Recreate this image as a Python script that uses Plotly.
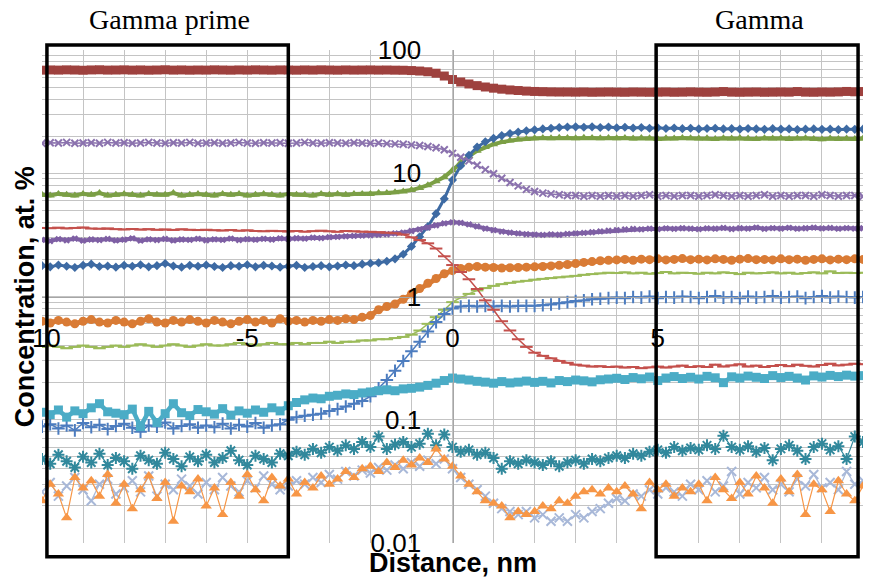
import plotly.graph_objects as go

# Sampling positions along the reconstruction (nm), 0.2 nm step
distance = [round(-10 + 0.2 * i, 1) for i in range(101)]

# Concentration profiles (at.%) across the gamma' / gamma interface
s1 = [68.6, 68.9, 68.7, 69.0, 68.8, 68.5, 68.9, 69.1, 68.7, 68.8,
      69.0, 68.7, 68.9, 68.6, 68.8, 69.1, 68.7, 68.9, 68.6, 68.8,
      68.7, 69.0, 68.8, 68.6, 68.9, 68.7, 69.0, 68.8, 68.6, 68.9,
      68.8, 68.6, 68.9, 68.7, 69.0, 68.8, 68.6, 68.9, 68.7, 68.8,
      68.9, 68.7, 68.8, 68.6, 68.5, 68.1, 67.5, 66.6, 64.8, 61.5,
      57.6, 55.0, 53.0, 51.4, 50.1, 49.0, 48.1, 47.4, 46.9, 46.4,
      46.1, 45.9, 45.7, 45.6, 45.6, 45.5, 45.6, 45.4, 45.5, 45.6,
      45.5, 45.4, 45.6, 45.5, 45.4, 45.5, 45.6, 45.4, 45.5, 45.7,
      45.5, 45.4, 45.6, 46.0, 45.5, 45.4, 45.5, 45.6, 45.4, 45.5,
      45.6, 45.5, 46.0, 45.5, 45.4, 45.6, 45.5, 45.7, 46.1, 45.8,
      46.0]

s2 = [17.5, 17.7, 17.6, 17.8, 17.5, 17.6, 17.7, 17.5, 17.8, 17.6,
      17.7, 17.5, 17.6, 17.8, 17.6, 17.5, 17.7, 17.6, 17.8, 17.5,
      17.6, 17.7, 17.5, 17.6, 17.8, 17.6, 17.5, 17.7, 17.6, 17.7,
      17.5, 17.6, 17.8, 17.6, 17.5, 17.7, 17.6, 17.5, 17.7, 17.6,
      17.5, 17.6, 17.4, 17.3, 17.2, 17.0, 16.8, 16.5, 16.1, 15.5,
      14.5, 13.5, 12.6, 11.6, 10.7, 9.9, 9.1, 8.4, 7.9, 7.4,
      7.1, 6.9, 6.8, 6.7, 6.6, 6.6, 6.5, 6.6, 6.5, 6.6,
      6.5, 6.6, 6.5, 6.6, 6.7, 6.5, 6.6, 6.5, 6.6, 6.6,
      6.5, 6.6, 6.7, 6.6, 6.5, 6.6, 6.5, 6.6, 6.7, 6.5,
      6.6, 6.5, 6.6, 6.6, 6.5, 6.7, 6.6, 6.5, 6.6, 6.6,
      6.5]

s3 = [6.7, 6.6, 6.8, 6.7, 6.6, 6.8, 6.7, 6.9, 6.6, 6.7,
      6.8, 6.7, 6.6, 6.8, 6.7, 6.7, 6.9, 6.6, 6.7, 6.8,
      6.7, 6.6, 6.8, 6.7, 6.8, 6.6, 6.7, 6.8, 6.7, 6.6,
      6.8, 6.7, 6.7, 6.6, 6.8, 6.7, 6.8, 6.7, 6.8, 6.8,
      6.8, 6.9, 6.9, 7.0, 7.1, 7.3, 7.6, 8.0, 8.6, 9.3,
      10.6, 12.2, 13.8, 15.2, 16.3, 17.2, 17.9, 18.4, 18.8, 19.0,
      19.2, 19.3, 19.2, 19.4, 19.3, 19.2, 19.4, 19.3, 19.2, 19.3,
      19.2, 19.3, 19.1, 19.3, 19.2, 19.0, 19.2, 19.1, 19.3, 19.2,
      19.1, 19.2, 19.0, 19.2, 19.1, 19.3, 19.1, 19.0, 19.2, 19.1,
      19.2, 19.0, 19.1, 19.2, 19.0, 18.9, 19.1, 19.0, 19.1, 19.0,
      19.1]

s4 = [1.78, 1.74, 1.80, 1.76, 1.72, 1.79, 1.83, 1.75, 1.77, 1.73,
      1.79, 1.76, 1.81, 1.74, 1.78, 1.85, 1.77, 1.73, 1.79, 1.76,
      1.80, 1.75, 1.72, 1.78, 1.76, 1.81, 1.74, 1.79, 1.77, 1.73,
      1.76, 1.79, 1.72, 1.75, 1.78, 1.74, 1.77, 1.80, 1.78, 1.83,
      1.86, 1.88, 1.93, 2.02, 2.20, 2.55, 3.05, 3.70, 4.70, 6.20,
      8.8, 11.5, 14.0, 16.3, 18.0, 19.2, 20.2, 21.0, 21.6, 22.1,
      22.5, 22.9, 23.2, 23.5, 23.7, 23.8, 23.6, 23.8, 23.5, 23.7,
      23.4, 23.6, 23.3, 23.5, 23.2, 23.4, 23.1, 23.3, 23.0, 23.2,
      22.9, 23.1, 23.2, 22.9, 23.0, 22.8, 23.1, 22.9, 22.7, 23.0,
      22.8, 22.9, 22.6, 22.8, 22.9, 22.7, 22.8, 22.6, 22.8, 22.7,
      22.8]

s5 = [3.60, 3.58, 3.62, 3.57, 3.60, 3.63, 3.56, 3.55, 3.57, 3.52,
      3.50, 3.53, 3.49, 3.52, 3.48, 3.50, 3.47, 3.51, 3.48, 3.46,
      3.48, 3.45, 3.43, 3.46, 3.42, 3.44, 3.40, 3.38, 3.41, 3.39,
      3.37, 3.40, 3.36, 3.39, 3.42, 3.38, 3.35, 3.40, 3.38, 3.36,
      3.35, 3.33, 3.30, 3.26, 3.18, 3.02, 2.87, 2.70, 2.45, 2.12,
      1.80, 1.58, 1.38, 1.15, 0.93, 0.78, 0.63, 0.53, 0.45, 0.39,
      0.35, 0.33, 0.315, 0.30, 0.29, 0.28, 0.275, 0.27, 0.272, 0.268,
      0.27, 0.265, 0.268, 0.262, 0.266, 0.27, 0.265, 0.27, 0.275, 0.268,
      0.272, 0.268, 0.28, 0.27, 0.276, 0.282, 0.27, 0.275, 0.268, 0.273,
      0.278, 0.272, 0.28, 0.274, 0.27, 0.278, 0.285, 0.276, 0.28, 0.285,
      0.282]

s6 = [2.88, 2.82, 2.92, 2.86, 2.95, 2.84, 2.90, 2.87, 2.93, 2.85,
      2.89, 2.96, 2.84, 2.91, 2.87, 2.93, 2.85, 2.90, 2.88, 2.94,
      2.86, 2.91, 2.88, 2.95, 2.87, 2.92, 2.89, 2.94, 2.90, 2.96,
      2.93, 2.97, 2.95, 3.00, 2.98, 3.03, 3.05, 3.08, 3.10, 3.12,
      3.14, 3.16, 3.20, 3.25, 3.30, 3.40, 3.50, 3.63, 3.78, 3.92,
      4.00, 3.96, 3.85, 3.70, 3.56, 3.45, 3.36, 3.30, 3.25, 3.20,
      3.18, 3.16, 3.19, 3.17, 3.22, 3.25, 3.28, 3.32, 3.37, 3.42,
      3.46, 3.50, 3.53, 3.51, 3.55, 3.52, 3.57, 3.54, 3.58, 3.55,
      3.52, 3.57, 3.55, 3.60, 3.53, 3.58, 3.56, 3.62, 3.54, 3.59,
      3.56, 3.61, 3.55, 3.58, 3.62, 3.57, 3.60, 3.55, 3.59, 3.56,
      3.58]

s7 = [0.63, 0.61, 0.64, 0.62, 0.60, 0.63, 0.65, 0.62, 0.61, 0.64,
      0.62, 0.60, 0.63, 0.66, 0.62, 0.61, 0.64, 0.62, 0.65, 0.63,
      0.61, 0.64, 0.62, 0.60, 0.63, 0.65, 0.62, 0.64, 0.61, 0.66,
      0.63, 0.64, 0.62, 0.64, 0.63, 0.65, 0.64, 0.66, 0.65, 0.68,
      0.70, 0.78, 0.83, 0.87, 0.95, 1.05, 1.16, 1.28, 1.40, 1.53,
      1.62, 1.69, 1.73, 1.75, 1.73, 1.72, 1.70, 1.71, 1.72, 1.73,
      1.74, 1.75, 1.77, 1.79, 1.82, 1.85, 1.89, 1.92, 1.95, 1.97,
      1.98, 2.00, 1.97, 2.01, 1.99, 2.02, 1.98, 2.00, 2.03, 1.99,
      2.01, 1.98, 2.02, 2.00, 1.97, 2.01, 2.03, 1.99, 2.00, 1.98,
      2.02, 1.99, 2.01, 1.97, 2.00, 2.02, 1.98, 2.01, 1.99, 2.02,
      2.00]

s8 = [0.39, 0.40, 0.39, 0.38, 0.39, 0.40, 0.39, 0.38, 0.39, 0.40,
      0.39, 0.40, 0.41, 0.40, 0.39, 0.40, 0.41, 0.40, 0.39, 0.40,
      0.41, 0.40, 0.40, 0.41, 0.42, 0.41, 0.40, 0.41, 0.42, 0.41,
      0.41, 0.42, 0.41, 0.42, 0.42, 0.43, 0.42, 0.43, 0.43, 0.44,
      0.44, 0.45, 0.45, 0.46, 0.47, 0.49, 0.53, 0.60, 0.68, 0.78,
      0.90, 0.98, 1.05, 1.12, 1.17, 1.22, 1.26, 1.29, 1.32, 1.34,
      1.37, 1.39, 1.41, 1.43, 1.45, 1.47, 1.50, 1.52, 1.54, 1.56,
      1.55, 1.57, 1.54, 1.56, 1.53, 1.55, 1.58, 1.54, 1.56, 1.55,
      1.53, 1.56, 1.54, 1.57, 1.55, 1.52, 1.56, 1.54, 1.55, 1.57,
      1.54, 1.56, 1.53, 1.55, 1.57, 1.54, 1.60, 1.55, 1.56, 1.55,
      1.56]

s9 = [0.088, 0.092, 0.085, 0.090, 0.082, 0.094, 0.087, 0.091, 0.084, 0.089,
      0.093, 0.086, 0.080, 0.090, 0.088, 0.095, 0.085, 0.089, 0.092, 0.086,
      0.090, 0.087, 0.093, 0.085, 0.091, 0.088, 0.094, 0.086, 0.090, 0.092,
      0.100, 0.105, 0.108, 0.110, 0.112, 0.118, 0.122, 0.128, 0.135, 0.142,
      0.155, 0.18, 0.21, 0.25, 0.30, 0.36, 0.43, 0.52, 0.62, 0.72,
      0.80, 0.83, 0.84, 0.83, 0.84, 0.83, 0.84, 0.83, 0.84, 0.84,
      0.84, 0.85, 0.86, 0.88, 0.90, 0.92, 0.93, 0.95, 0.96, 0.97,
      0.98, 0.97, 0.99, 0.98, 1.00, 0.97, 0.99, 0.98, 1.00, 0.99,
      0.97, 0.99, 1.01, 0.98, 0.99, 0.97, 1.00, 0.98, 0.99, 1.01,
      0.98, 0.99, 1.00, 0.97, 0.99, 1.01, 0.98, 1.00, 0.99, 0.98,
      0.99]

s10 = [0.115, 0.110, 0.120, 0.105, 0.118, 0.112, 0.125, 0.135, 0.116, 0.113,
       0.110, 0.122, 0.088, 0.117, 0.095, 0.112, 0.135, 0.114, 0.108, 0.121,
       0.116, 0.111, 0.123, 0.109, 0.118, 0.113, 0.120, 0.115, 0.125, 0.118,
       0.130, 0.138, 0.145, 0.150, 0.148, 0.155, 0.158, 0.162, 0.160, 0.165,
       0.168, 0.172, 0.175, 0.172, 0.178, 0.180, 0.184, 0.190, 0.198, 0.208,
       0.218, 0.214, 0.210, 0.205, 0.202, 0.198, 0.204, 0.199, 0.202, 0.206,
       0.201, 0.205, 0.199, 0.208, 0.204, 0.210, 0.207, 0.203, 0.211, 0.214,
       0.217, 0.212, 0.220, 0.215, 0.222, 0.208, 0.218, 0.224, 0.216, 0.221,
       0.214, 0.225, 0.219, 0.200, 0.223, 0.218, 0.226, 0.221, 0.216, 0.228,
       0.220, 0.225, 0.218, 0.210, 0.227, 0.222, 0.229, 0.224, 0.230, 0.226,
       0.228]

s11 = [0.048, 0.044, 0.052, 0.046, 0.041, 0.050, 0.045, 0.053, 0.043, 0.049,
       0.046, 0.040, 0.051, 0.047, 0.044, 0.054, 0.048, 0.042, 0.050, 0.046,
       0.052, 0.045, 0.049, 0.056, 0.047, 0.043, 0.051, 0.048, 0.045, 0.053,
       0.051, 0.055, 0.052, 0.058, 0.054, 0.060, 0.056, 0.062, 0.058, 0.066,
       0.060, 0.073, 0.058, 0.063, 0.066, 0.060, 0.064, 0.077, 0.062, 0.076,
       0.060, 0.055, 0.057, 0.052, 0.054, 0.049, 0.040, 0.046, 0.044, 0.047,
       0.045, 0.043, 0.046, 0.042, 0.045, 0.047, 0.044, 0.048, 0.046, 0.049,
       0.051, 0.049, 0.053, 0.051, 0.055, 0.057, 0.054, 0.060, 0.056, 0.059,
       0.057, 0.062, 0.058, 0.074, 0.060, 0.057, 0.061, 0.055, 0.059, 0.047,
       0.058, 0.062, 0.056, 0.048, 0.060, 0.064, 0.057, 0.061, 0.048, 0.073,
       0.066]

s12 = [0.026, 0.031, 0.024, 0.029, 0.034, 0.027, 0.022, 0.030, 0.033, 0.025,
       0.028, 0.032, 0.026, 0.035, 0.024, 0.030, 0.027, 0.033, 0.029, 0.025,
       0.031, 0.027, 0.034, 0.029, 0.026, 0.032, 0.028, 0.035, 0.030, 0.027,
       0.029, 0.032, 0.030, 0.034, 0.031, 0.036, 0.033, 0.038, 0.035, 0.039,
       0.037, 0.041, 0.039, 0.043, 0.040, 0.045, 0.042, 0.047, 0.044, 0.048,
       0.040, 0.034, 0.030, 0.027, 0.024, 0.021, 0.019, 0.018, 0.017, 0.018,
       0.016, 0.017, 0.015, 0.016, 0.015, 0.017, 0.016, 0.018, 0.019, 0.021,
       0.023, 0.022, 0.025, 0.024, 0.027, 0.025, 0.028, 0.026, 0.024, 0.030,
       0.027, 0.032, 0.026, 0.029, 0.038, 0.025, 0.031, 0.028, 0.034, 0.027,
       0.030, 0.026, 0.033, 0.029, 0.036, 0.028, 0.031, 0.027, 0.038, 0.030,
       0.032]

s13 = [0.022, 0.030, 0.025, 0.016, 0.034, 0.028, 0.032, 0.024, 0.036, 0.021,
       0.030, 0.019, 0.027, 0.035, 0.023, 0.031, 0.015, 0.029, 0.026, 0.033,
       0.020, 0.028, 0.017, 0.031, 0.024, 0.036, 0.027, 0.022, 0.034, 0.029,
       0.033, 0.025, 0.031, 0.028, 0.035, 0.030, 0.033, 0.038, 0.034, 0.040,
       0.042, 0.038, 0.045, 0.041, 0.047, 0.043, 0.049, 0.045, 0.058, 0.048,
       0.042, 0.035, 0.030, 0.026, 0.022, 0.021, 0.020, 0.016, 0.018, 0.017,
       0.018, 0.020, 0.019, 0.022, 0.021, 0.024, 0.026, 0.027, 0.025, 0.028,
       0.026, 0.029, 0.025, 0.019, 0.031, 0.027, 0.030, 0.024, 0.028, 0.026,
       0.030, 0.022, 0.034, 0.027, 0.023, 0.031, 0.025, 0.035, 0.028, 0.021,
       0.033, 0.026, 0.036, 0.017, 0.030, 0.027, 0.018, 0.032, 0.025, 0.022,
       0.029]

# Labelled ticks
y_ticks = [0.01, 0.1, 1, 10, 100]
x_ticks = [-10, -5, 0, 5, 10]

# Analysis windows: (label, x0, x1)
regions = [("Gamma prime", -9.88, -4.0), ("Gamma", 4.96, 9.88)]

# Grid positions: every nm, and 1..9 within each decade
x_grid = list(range(-10, 11))
y_grid = [round(m * 10.0 ** e, 4) for e in range(-2, 2) for m in range(1, 10)] + [100]
x_text = [str(v) if v in x_ticks else "" for v in x_grid]
y_text = [("%g" % v) if v in y_ticks else "" for v in y_grid]

# (values, colour, marker symbol, marker size, line width)
styles = [
    (s1,  "#9e413e", "square",          9, 5.5),
    (s3,  "#7b9f45", "triangle-up",     8, 4.0),
    (s4,  "#3d6aa3", "diamond",         7, 3.0),
    (s2,  "#8b72ae", "x-thin-open",     7, 1.5),
    (s6,  "#7e5fa4", "x",               6, 4.0),
    (s7,  "#d97b35", "circle",          9, 5.0),
    (s8,  "#9bbb59", "line-ew-open",    9, 1.5),
    (s9,  "#4c7cbf", "cross-thin-open", 9, 1.5),
    (s5,  "#c4504c", "line-ew-open",    9, 1.5),
    (s10, "#4bacc6", "square",          9, 4.5),
    (s11, "#31889c", "asterisk-open",   10, 1.2),
    (s12, "#a8b8d8", "x-thin-open",     9, 1.2),
    (s13, "#f79646", "triangle-up",     10, 1.2),
]

fig = go.Figure()
for vals, color, symbol, msize, lw in styles:
    fig.add_trace(go.Scatter(
        x=distance, y=vals, mode="lines+markers",
        line=dict(color=color, width=lw),
        marker=dict(symbol=symbol, size=msize, color=color,
                    line=dict(color=color, width=2 if "open" in symbol else 0)),
        showlegend=False,
    ))

grid_col = "#c4c4c4"
fig.update_layout(
    width=873, height=579,
    margin=dict(l=42, r=10, t=50, b=36),
    paper_bgcolor="white", plot_bgcolor="white",
    font=dict(family="Liberation Sans, Arial, sans-serif", size=26, color="black"),
    xaxis=dict(
        range=[-10, 10], tickmode="array", tickvals=x_grid, ticktext=x_text,
        showgrid=True, gridcolor=grid_col, gridwidth=1.3,
        anchor="free", position=0.5, side="bottom",
        showline=True, linecolor="#a6a6a6", linewidth=1.3,
        zeroline=False, ticks="", ticklabelstandoff=18,
        tickfont=dict(size=26),
    ),
    yaxis=dict(
        type="log", range=[-2, 2], tickmode="array",
        tickvals=y_grid, ticktext=y_text,
        showgrid=True, gridcolor=grid_col, gridwidth=1.3,
        anchor="free", position=0.5, side="left",
        showline=True, linecolor="#a6a6a6", linewidth=1.3,
        ticks="", ticklabelstandoff=26,
        tickfont=dict(size=26),
    ),
)

for label, x0, x1 in regions:
    fig.add_shape(type="rect", xref="x", yref="paper",
                  x0=x0, x1=x1, y0=-0.028, y1=1.01,
                  line=dict(color="black", width=3.5), fillcolor="rgba(0,0,0,0)")
    fig.add_annotation(text=label, xref="x", yref="paper",
                       x=(x0 + x1) / 2 + 0.05, y=1.062, showarrow=False,
                       yanchor="middle",
                       font=dict(family="Liberation Serif, Times New Roman, serif",
                                 size=28, color="black"))

fig.add_annotation(text="<b>Concentration, at. %</b>", xref="paper", yref="paper",
                   x=-0.021, y=0.5, textangle=-90, showarrow=False,
                   xanchor="center", yanchor="middle", font=dict(size=27))
fig.add_annotation(text="<b>Distance, nm</b>", xref="paper", yref="paper",
                   x=0.5, y=-0.041, showarrow=False,
                   xanchor="center", yanchor="middle", font=dict(size=27))

fig.write_html("out.html")
